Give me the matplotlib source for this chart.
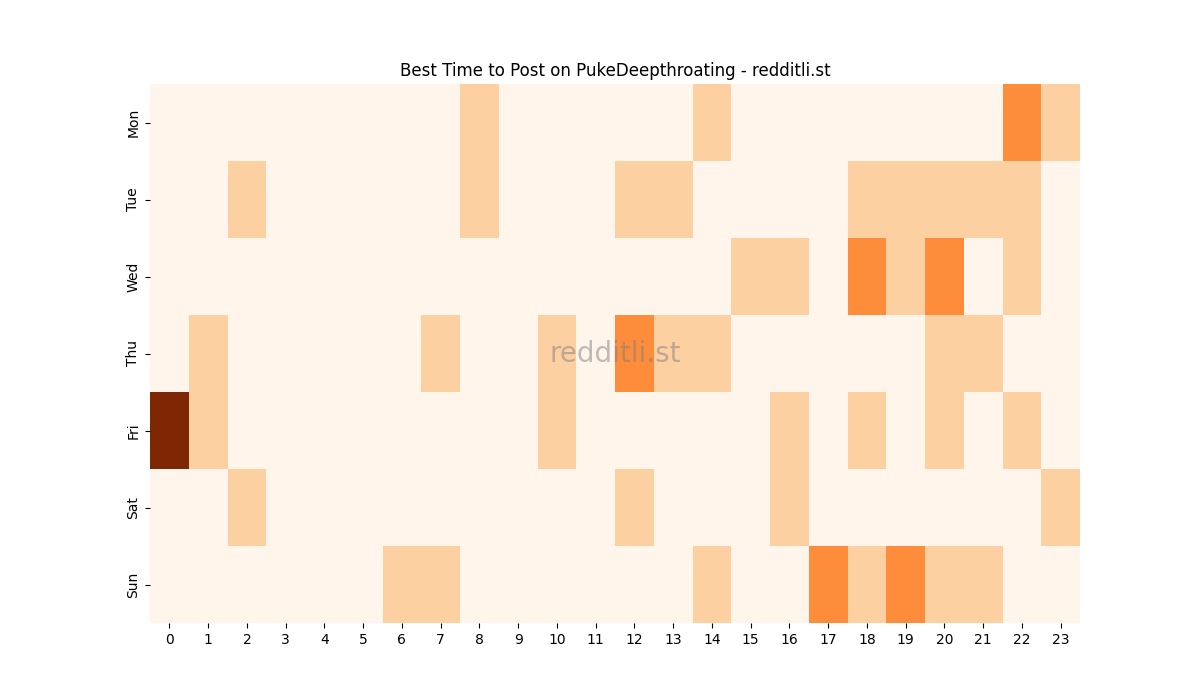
import matplotlib
matplotlib.use("Agg")
import matplotlib.pyplot as plt
import seaborn as sns
import numpy as np

days = ["Mon", "Tue", "Wed", "Thu", "Fri", "Sat", "Sun"]
hours = list(range(24))

mon = [0,0,0,0,0,0,0,0,1,0,0,0,0,0,1,0,0,0,0,0,0,0,2,1]
tue = [0,0,1,0,0,0,0,0,1,0,0,0,1,1,0,0,0,0,1,1,1,1,1,0]
wed = [0,0,0,0,0,0,0,0,0,0,0,0,0,0,0,1,1,0,2,1,2,0,1,0]
thu = [0,1,0,0,0,0,0,1,0,0,1,0,2,1,1,0,0,0,0,0,1,1,0,0]
fri = [4,1,0,0,0,0,0,0,0,0,1,0,0,0,0,0,1,0,1,0,1,0,1,0]
sat = [0,0,1,0,0,0,0,0,0,0,0,0,1,0,0,0,1,0,0,0,0,0,0,1]
sun = [0,0,0,0,0,0,1,1,0,0,0,0,0,0,1,0,0,2,1,2,1,1,0,0]

data = np.array([mon, tue, wed, thu, fri, sat, sun])

fig, ax = plt.subplots(figsize=(12, 7), dpi=100)
sns.heatmap(data, cmap="Oranges", cbar=False, ax=ax,
            xticklabels=hours, yticklabels=days)
ax.set_title("Best Time to Post on PukeDeepthroating - redditli.st")
ax.text(0.5, 0.5, "redditli.st", transform=ax.transAxes, ha="center",
        va="center", fontsize=20, color="gray", alpha=0.5)
fig.savefig("out.png")
